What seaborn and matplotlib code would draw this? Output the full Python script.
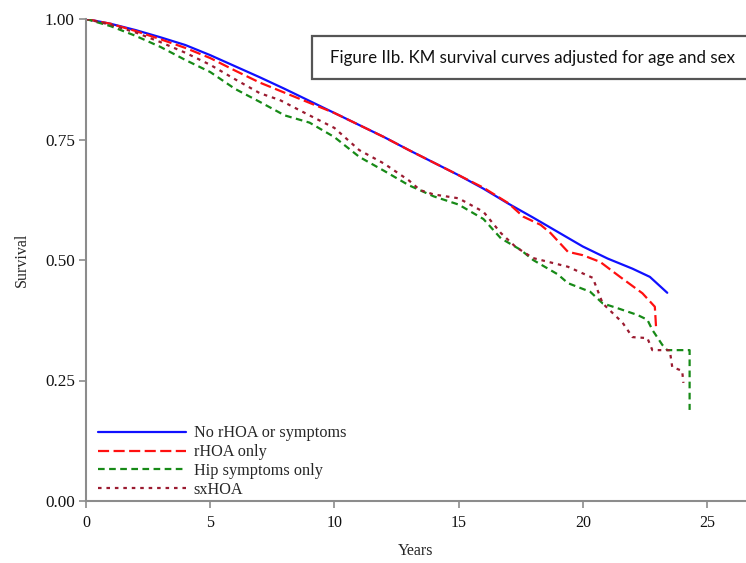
import numpy as np
import pandas as pd
import matplotlib
matplotlib.use('Agg')
import matplotlib.pyplot as plt
from matplotlib.patches import Rectangle
import seaborn as sns

# data (years, survival)
t_none = [0, 1, 2, 3, 4, 5, 6, 7, 8, 9, 10, 11, 12, 13, 14, 15, 16, 17, 18,
          19, 20, 21, 22, 22.7, 23.4]
s_none = [1.0, 0.99, 0.977, 0.962, 0.946, 0.925, 0.902, 0.879, 0.855, 0.83,
          0.805, 0.78, 0.755, 0.728, 0.702, 0.676, 0.648, 0.617, 0.588,
          0.558, 0.528, 0.503, 0.482, 0.465, 0.432]

t_rhoa = [0, 1, 2, 3, 4, 5, 6, 7, 8, 9, 10, 11, 12, 13, 14, 15, 16, 17,
          17.6, 18.3, 18.7, 19.4, 20, 20.7, 21.5, 22.4, 22.9, 22.95]
s_rhoa = [1.0, 0.99, 0.975, 0.958, 0.94, 0.919, 0.893, 0.868, 0.847, 0.826,
          0.805, 0.78, 0.755, 0.728, 0.702, 0.676, 0.65, 0.618, 0.59, 0.573,
          0.556, 0.517, 0.51, 0.496, 0.465, 0.431, 0.403, 0.36]

t_hip = [0, 1, 2, 3, 4, 5, 6, 7, 8, 9, 10, 11, 12, 13, 14, 15, 16, 16.7,
         17.5, 18, 19, 19.4, 20.3, 20.8, 21.4, 22.2, 22.6, 22.8, 23.2, 23.4,
         24.3, 24.3]
s_hip = [1.0, 0.985, 0.965, 0.942, 0.915, 0.89, 0.855, 0.828, 0.8, 0.785,
         0.755, 0.714, 0.685, 0.655, 0.632, 0.615, 0.585, 0.545, 0.521, 0.5,
         0.47, 0.452, 0.434, 0.41, 0.4, 0.386, 0.376, 0.355, 0.324, 0.313,
         0.313, 0.189]

t_sx = [0, 1, 2, 3, 4, 5, 6, 7, 7.8, 9, 10, 11, 12, 13, 13.45, 14, 15, 16,
        16.7, 17.3, 18, 19.4, 20.4, 20.8, 21.6, 22.0, 22.6, 22.8, 23.5, 23.6,
        24.0, 24.05]
s_sx = [1.0, 0.988, 0.972, 0.952, 0.93, 0.905, 0.875, 0.846, 0.832, 0.8,
        0.774, 0.728, 0.7, 0.665, 0.645, 0.636, 0.628, 0.6, 0.556, 0.527,
        0.504, 0.486, 0.463, 0.41, 0.37, 0.34, 0.338, 0.313, 0.313, 0.278,
        0.27, 0.245]

labels = ['No rHOA or symptoms', 'rHOA only', 'Hip symptoms only', 'sxHOA']
colors = ['#1010ff', '#ff1010', '#178a17', '#9b1b30']
dashes = ['-', (0, (5, 2)), (0, (3, 2)), (0, (1.6, 2.2))]

sns.set_style('white')
plt.rcParams['font.family'] = ['Liberation Serif', 'DejaVu Serif']

fig = plt.figure(figsize=(7.46, 5.63), dpi=100)
ax = fig.add_axes([86 / 746, 62 / 563, 660 / 746, 482 / 563])

series = [(t_none, s_none), (t_rhoa, s_rhoa), (t_hip, s_hip), (t_sx, s_sx)]
for (t, s), lab, col, ls in zip(series, labels, colors, dashes):
    df = pd.DataFrame({'Years': t, 'Survival': s})
    sns.lineplot(data=df, x='Years', y='Survival', ax=ax, color=col,
                 linestyle=ls, linewidth=1.6, estimator=None, sort=False,
                 label=lab)

ax.set_xlim(0, 660 / 24.84)
ax.set_ylim(0, 1)
ax.set_xticks([0, 5, 10, 15, 20, 25])
ax.set_yticks([0, 0.25, 0.5, 0.75, 1.0])
ax.set_yticklabels(['0.00', '0.25', '0.50', '0.75', '1.00'])
ax.tick_params(axis='both', direction='out', length=5, width=1.2,
               color='#8c8c8c', labelcolor='#111111',
               left=True, bottom=True)
ax.tick_params(axis='x', labelsize=11.5, pad=5)
ax.tick_params(axis='y', labelsize=12.3, pad=3)
for side in ['top', 'right']:
    ax.spines[side].set_visible(False)
for side in ['left', 'bottom']:
    ax.spines[side].set_color('#8c8c8c')
    ax.spines[side].set_linewidth(1.5)
ax.set_xlabel('Years', fontsize=11.5, labelpad=9)
ax.set_ylabel('Survival', fontsize=11.5, labelpad=11)
ax.set_facecolor('white')

ax.legend(loc='lower left', bbox_to_anchor=(0.013, 0.0), frameon=False,
          fontsize=11.7, handlelength=5.4, handletextpad=0.5,
          labelspacing=0.17, borderaxespad=0.1, borderpad=0.1)

# caption box (runs off the right edge)
fig.patches.append(Rectangle((312 / 746, 484 / 563), 0.62, 43 / 563,
                             transform=fig.transFigure, facecolor='white',
                             edgecolor='#555555', linewidth=1.6,
                             clip_on=False))
fig.text(330 / 746, 505.5 / 563,
         'Figure IIb. KM survival curves adjusted for age and sex',
         family=['Lato', 'DejaVu Sans'], fontsize=12.2, va='center',
         ha='left', color='#111111')

fig.savefig('out.png', dpi=100, facecolor='white')
